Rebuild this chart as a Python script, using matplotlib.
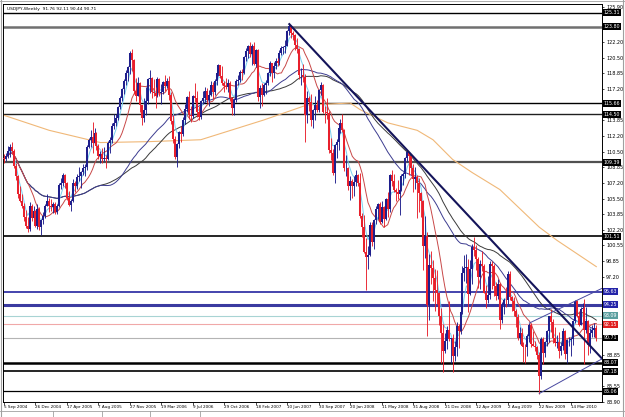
import numpy as np
import pandas as pd
import matplotlib
matplotlib.use('Agg')
import matplotlib.pyplot as plt
import matplotlib.transforms as mtransforms
from matplotlib.lines import Line2D

title_text = 'USDJPY,Weekly  91.76 92.11 90.44 90.71'

# weekly candles, first week = 5 Sep 2004
opens = [109.9, 109.7, 110.1, 110.6, 111.0, 110.6, 109.0, 107.9, 106.0, 105.3, 104.8, 103.6, 102.6, 102.3, 104.7, 103.5,
         104.2, 102.6, 104.4, 102.5, 103.3, 103.7, 104.8, 105.3, 104.8, 104.6, 105.0, 104.1, 104.7, 107.0, 107.2, 108.1,
         107.2, 105.6, 104.9, 105.3, 107.2, 106.9, 107.8, 107.9, 108.4, 108.8, 108.9, 111.0, 111.8, 112.1, 111.5, 112.5,
         111.1, 110.1, 110.3, 109.7, 109.9, 109.8, 111.4, 111.8, 113.3, 113.6, 114.1, 115.3, 116.2, 117.2, 118.1, 118.9,
         119.5, 121.0, 120.3, 117.0, 116.5, 117.8, 115.5, 114.1, 115.0, 115.9, 118.3, 118.4, 116.9, 116.8, 116.4, 118.3,
         116.8, 116.9, 117.9, 117.5, 118.1, 116.6, 113.8, 111.9, 110.0, 111.3, 112.6, 112.4, 113.9, 115.1, 116.3, 114.4,
         114.3, 116.4, 116.2, 114.8, 114.2, 115.9, 116.2, 117.0, 116.0, 116.6, 117.6, 116.9, 118.1, 118.9, 119.7, 118.6,
         117.8, 117.5, 117.4, 117.8, 116.2, 115.2, 116.0, 118.1, 118.2, 119.0, 118.9, 120.6, 121.2, 121.8, 120.9, 121.8,
         119.9, 121.3, 116.3, 117.3, 116.6, 117.6, 117.8, 118.9, 120.0, 118.9, 119.6, 120.2, 120.0, 121.0, 121.6, 121.7,
         121.8, 123.4, 123.9, 123.2, 122.9, 121.9, 121.5, 118.7, 118.7, 118.5, 114.4, 116.2, 115.8, 113.9, 115.0, 115.5,
         115.0, 117.1, 117.6, 114.8, 114.7, 114.6, 110.7, 110.4, 108.3, 111.2, 111.6, 113.1, 113.6, 112.8, 108.8, 108.8,
         106.9, 107.4, 106.9, 107.3, 108.1, 107.2, 103.7, 102.5, 99.9, 99.3, 99.5, 102.7, 100.9, 103.3, 104.4, 105.0,
         103.0, 104.6, 103.4, 105.5, 104.4, 108.1, 107.4, 106.4, 106.2, 106.0, 106.5, 107.9, 108.2, 109.9, 110.5, 110.1,
         108.8, 107.6, 107.8, 107.2, 106.1, 105.3, 100.5, 101.6, 94.2, 98.5, 98.2, 97.1, 95.8, 95.5, 93.1, 91.2,
         89.3, 90.4, 91.6, 90.6, 90.7, 88.8, 89.8, 92.0, 91.4, 93.5, 97.6, 98.2, 98.3, 95.4, 98.0, 100.4,
         100.1, 99.1, 97.2, 98.6, 98.4, 95.5, 94.8, 95.3, 98.6, 98.4, 96.2, 95.2, 96.4, 92.6, 94.2, 94.8,
         94.7, 97.5, 95.1, 94.6, 93.6, 92.9, 90.7, 91.2, 89.9, 89.8, 89.7, 90.9, 92.1, 90.1, 89.9, 89.7,
         88.9, 86.7, 90.6, 89.1, 90.3, 91.4, 93.0, 92.4, 90.7, 90.2, 90.3, 89.3, 89.9, 91.5, 89.0, 90.5,
         90.5, 90.6, 92.5, 94.6, 93.0, 92.1, 93.8, 93.9, 91.6, 92.5, 90.0, 91.2, 91.6, 91.76]
highs = [110.3, 110.4, 111.1, 111.3, 111.6, 110.8, 109.3, 108.0, 106.9, 106.0, 105.1, 104.3, 103.6, 105.2, 105.0, 104.8,
         104.3, 105.0, 104.6, 103.4, 104.1, 105.0, 106.0, 105.6, 105.5, 105.2, 105.2, 105.0, 107.2, 107.7, 108.3, 108.2,
         107.3, 106.3, 105.5, 107.6, 107.4, 108.2, 108.9, 108.5, 109.2, 109.2, 111.2, 112.0, 112.8, 113.7, 113.1, 112.6,
         111.3, 110.6, 110.9, 111.0, 110.2, 111.7, 112.1, 113.6, 114.5, 114.5, 115.4, 116.5, 117.3, 118.3, 119.2, 119.6,
         121.2, 121.4, 120.4, 118.4, 118.5, 117.9, 115.5, 116.2, 117.4, 118.4, 119.2, 118.5, 118.3, 117.4, 118.5, 118.4,
         117.7, 118.1, 118.7, 118.4, 118.6, 116.9, 114.4, 112.2, 111.5, 112.7, 113.3, 114.2, 115.6, 116.4, 117.0, 115.4,
         116.6, 117.8, 117.0, 115.4, 116.0, 117.0, 117.4, 117.3, 117.1, 118.1, 117.9, 118.3, 119.1, 119.9, 119.8, 119.6,
         118.0, 118.4, 118.3, 118.1, 116.3, 116.2, 118.3, 118.7, 119.2, 119.3, 120.7, 121.6, 121.9, 122.2, 122.0, 122.2,
         121.5, 121.4, 117.6, 117.8, 117.8, 118.2, 119.0, 120.2, 120.0, 120.1, 120.5, 120.5, 121.3, 121.8, 121.8, 122.4,
         123.5, 124.1, 124.0, 123.4, 123.1, 122.6, 121.6, 119.4, 119.9, 118.8, 117.0, 116.5, 116.7, 115.1, 116.4, 116.0,
         117.2, 117.9, 117.7, 115.4, 116.2, 114.9, 112.0, 110.8, 111.3, 111.9, 113.3, 114.0, 114.5, 112.9, 110.2, 108.9,
         107.9, 107.6, 107.9, 108.6, 108.2, 108.3, 104.0, 103.8, 101.3, 100.5, 103.1, 103.1, 103.4, 104.7, 105.1, 105.2,
         105.3, 104.8, 105.6, 106.2, 108.2, 108.6, 108.2, 106.7, 107.5, 106.8, 108.2, 108.4, 110.0, 110.7, 110.5, 110.2,
         109.2, 108.9, 108.0, 107.7, 106.2, 105.4, 103.7, 102.0, 99.6, 100.0, 99.0, 98.1, 97.9, 95.6, 93.9, 92.2,
         91.2, 92.0, 94.6, 90.7, 91.1, 90.4, 92.4, 92.2, 94.1, 98.4, 99.5, 99.6, 99.1, 99.0, 100.7, 101.4,
         100.6, 99.3, 99.0, 100.0, 98.6, 96.3, 97.3, 98.9, 98.9, 98.6, 96.7, 97.0, 96.6, 94.5, 95.0, 96.1,
         97.8, 97.8, 95.2, 95.1, 93.8, 93.3, 91.9, 91.8, 90.3, 90.1, 91.1, 92.3, 92.3, 91.4, 90.4, 89.9,
         89.2, 90.8, 90.8, 90.4, 91.6, 93.0, 93.8, 92.7, 91.9, 91.0, 91.3, 90.3, 91.8, 91.6, 90.6, 90.8,
         90.8, 92.6, 94.7, 94.8, 93.6, 94.0, 94.4, 94.9, 94.0, 92.6, 91.8, 92.1, 92.3, 92.11]
lows = [109.3, 109.5, 109.9, 110.0, 110.3, 108.8, 107.5, 105.6, 105.2, 104.5, 103.2, 102.4, 102.0, 102.1, 103.2, 103.4,
        102.5, 102.3, 102.2, 101.7, 102.8, 103.5, 104.7, 104.1, 104.2, 104.0, 103.9, 103.9, 104.6, 106.6, 106.9, 106.7,
        105.4, 104.7, 104.2, 105.2, 106.2, 106.6, 107.4, 106.7, 108.0, 107.9, 108.6, 110.9, 111.0, 110.4, 111.3, 110.7,
        109.8, 109.3, 109.3, 109.5, 108.8, 109.6, 110.4, 111.5, 112.9, 113.3, 113.9, 115.1, 115.9, 116.7, 117.6, 118.0,
        118.8, 119.1, 116.7, 115.9, 116.4, 114.8, 113.4, 113.7, 114.4, 115.6, 116.8, 116.2, 116.4, 115.2, 116.3, 116.4,
        115.6, 116.7, 117.0, 117.3, 116.0, 113.5, 111.5, 109.8, 108.9, 110.9, 111.6, 112.2, 113.5, 114.7, 114.0, 113.7,
        114.1, 115.8, 114.2, 113.9, 114.0, 115.6, 115.8, 115.7, 115.4, 116.5, 116.1, 116.6, 117.6, 118.6, 118.4, 117.6,
        116.9, 117.2, 116.9, 115.9, 114.4, 114.4, 115.8, 117.6, 117.9, 118.2, 118.8, 120.2, 120.5, 120.6, 119.8, 119.7,
        119.5, 115.9, 115.2, 115.4, 116.4, 116.7, 117.6, 118.6, 117.9, 118.4, 119.3, 119.6, 119.8, 120.8, 120.9, 121.0,
        121.8, 122.9, 122.6, 122.4, 121.3, 121.0, 118.3, 117.6, 117.9, 111.6, 113.6, 114.9, 113.3, 113.0, 113.9, 114.8,
        114.8, 116.6, 114.6, 113.6, 114.0, 110.4, 109.6, 108.0, 107.2, 109.9, 110.7, 112.5, 112.6, 108.5, 107.9, 106.5,
        105.4, 105.6, 105.8, 106.9, 106.9, 103.5, 101.5, 99.8, 95.8, 98.0, 99.4, 100.5, 100.2, 102.8, 103.4, 102.8,
        102.9, 102.5, 103.3, 103.6, 104.1, 106.9, 106.2, 105.3, 105.5, 103.8, 106.3, 107.0, 107.7, 109.4, 108.1, 108.0,
        106.2, 106.6, 103.5, 104.1, 103.6, 97.9, 99.2, 90.9, 92.6, 96.5, 94.6, 93.6, 94.3, 92.1, 88.1, 87.1,
        89.1, 89.5, 90.4, 88.0, 87.1, 88.3, 88.8, 89.6, 91.1, 93.3, 96.8, 96.6, 93.5, 95.3, 96.5, 99.4,
        97.9, 96.0, 95.9, 97.8, 95.5, 93.9, 94.4, 94.9, 95.9, 95.2, 94.8, 94.9, 91.7, 92.3, 93.3, 94.0,
        94.3, 94.8, 93.6, 93.0, 91.9, 90.5, 90.1, 89.9, 88.2, 88.0, 88.8, 90.3, 89.8, 89.9, 89.3, 88.5,
        84.8, 86.3, 87.9, 88.7, 89.9, 90.3, 91.3, 90.2, 89.9, 89.6, 88.6, 88.9, 89.4, 88.5, 88.1, 89.9,
        88.8, 90.0, 92.3, 92.9, 92.0, 92.1, 92.9, 87.9, 91.2, 88.9, 89.1, 90.8, 90.8, 90.44]
closes = [109.7, 110.1, 110.6, 111.0, 110.6, 109.0, 107.9, 106.0, 105.3, 104.8, 103.6, 102.6, 102.3, 104.7, 103.5, 104.2,
          102.6, 104.4, 102.5, 103.3, 103.7, 104.8, 105.3, 104.8, 104.6, 105.0, 104.1, 104.7, 107.0, 107.2, 108.1, 107.2,
          105.6, 104.9, 105.3, 107.2, 106.9, 107.8, 107.9, 108.4, 108.8, 108.9, 111.0, 111.8, 112.1, 111.5, 112.5, 111.1,
          110.1, 110.3, 109.7, 109.9, 109.8, 111.4, 111.8, 113.3, 113.6, 114.1, 115.3, 116.2, 117.2, 118.1, 118.9, 119.5,
          121.0, 120.3, 117.0, 116.5, 117.8, 115.5, 114.1, 115.0, 115.9, 118.3, 118.4, 116.9, 116.8, 116.4, 118.3, 116.8,
          116.9, 117.9, 117.5, 118.1, 116.6, 113.8, 111.9, 110.0, 111.3, 112.6, 112.4, 113.9, 115.1, 116.3, 114.4, 114.3,
          116.4, 116.2, 114.8, 114.2, 115.9, 116.2, 117.0, 116.0, 116.6, 117.6, 116.9, 118.1, 118.9, 119.7, 118.6, 117.8,
          117.5, 117.4, 117.8, 116.2, 115.2, 116.0, 118.1, 118.2, 119.0, 118.9, 120.6, 121.2, 121.8, 120.9, 121.8, 119.9,
          121.3, 116.3, 117.3, 116.6, 117.6, 117.8, 118.9, 120.0, 118.9, 119.6, 120.2, 120.0, 121.0, 121.6, 121.7, 121.8,
          123.4, 123.9, 123.2, 122.9, 121.9, 121.5, 118.7, 118.7, 118.5, 114.4, 116.2, 115.8, 113.9, 115.0, 115.5, 115.0,
          117.1, 117.6, 114.8, 114.7, 114.6, 110.7, 110.4, 108.3, 111.2, 111.6, 113.1, 113.6, 112.8, 108.8, 108.8, 106.9,
          107.4, 106.9, 107.3, 108.1, 107.2, 103.7, 102.5, 99.9, 99.3, 99.5, 102.7, 100.9, 103.3, 104.4, 105.0, 103.0,
          104.6, 103.4, 105.5, 104.4, 108.1, 107.4, 106.4, 106.2, 106.0, 106.5, 107.9, 108.2, 109.9, 110.5, 110.1, 108.8,
          107.6, 107.8, 107.2, 106.1, 105.3, 100.5, 101.6, 94.2, 98.5, 98.2, 97.1, 95.8, 95.5, 93.1, 91.2, 89.3,
          90.4, 91.6, 90.6, 90.7, 88.8, 89.8, 92.0, 91.4, 93.5, 97.6, 98.2, 98.3, 95.4, 98.0, 100.4, 100.1,
          99.1, 97.2, 98.6, 98.4, 95.5, 94.8, 95.3, 98.6, 98.4, 96.2, 95.2, 96.4, 92.6, 94.2, 94.8, 94.7,
          97.5, 95.1, 94.6, 93.6, 92.9, 90.7, 91.2, 89.9, 89.8, 89.7, 90.9, 92.1, 90.1, 89.9, 89.7, 88.9,
          86.7, 90.6, 89.1, 90.3, 91.4, 93.0, 92.4, 90.7, 90.2, 90.3, 89.3, 89.9, 91.5, 89.0, 90.5, 90.5,
          90.6, 92.5, 94.6, 93.0, 92.1, 93.8, 93.9, 91.6, 92.5, 90.0, 91.2, 91.6, 91.76, 90.71]

date_labels = ['5 Sep 2004', '26 Dec 2004', '17 Apr 2005', '7 Aug 2005', '27 Nov 2005', '19 Mar 2006',
               '9 Jul 2006', '29 Oct 2006', '18 Feb 2007', '10 Jun 2007', '30 Sep 2007', '20 Jan 2008',
               '11 May 2008', '31 Aug 2008', '21 Dec 2008', '12 Apr 2009', '2 Aug 2009', '22 Nov 2009', '14 Mar 2010']
date_weeks = [0, 16, 32, 48, 64, 80, 96, 112, 128, 144, 160, 176, 192, 208, 224, 240, 256, 272, 288]

price_ticks = [125.90, 122.20, 120.50, 118.85, 117.20, 113.85, 112.20, 110.50, 108.85, 107.20, 105.50,
               103.85, 102.20, 100.55, 98.85, 97.20, 88.85, 85.55, 83.90]

# horizontal levels: price, label, line colour, line width, label box colour
levels = [
    (125.31, '125.31', '#000000', 1.0, '#000000'),
    (123.80, '123.80', '#707070', 1.8, '#000000'),
    (115.66, '115.66', '#000000', 1.0, '#000000'),
    (114.50, '114.50', '#202020', 1.0, '#000000'),
    (109.39, '109.39', '#505050', 1.6, '#000000'),
    (101.51, '101.51', '#000000', 1.2, '#000000'),
    (95.63, '95.63', '#2424a0', 1.2, '#2424a8'),
    (94.25, '94.25', '#3a3aa0', 2.2, '#2424a8'),
    (93.09, '93.09', '#a8d4d4', 0.8, '#5a9e9e'),
    (92.15, '92.15', '#f0a8a8', 0.8, '#e02020'),
    (90.71, '90.71', '#b4b4b4', 0.8, '#000000'),
    (88.07, '88.07', '#000000', 1.8, '#000000'),
    (87.18, '87.18', '#000000', 1.2, '#000000'),
    (85.06, '85.06', '#000000', 0.9, '#000000'),
]

# slow moving average
slow_ma_weeks = [0, 23, 49, 74, 100, 132, 154, 176, 181, 195, 210, 218, 228, 238, 252, 272, 281, 301]
slow_ma_vals = [114.4, 112.8, 111.5, 111.6, 111.8, 113.9, 115.5, 115.7, 115.0, 113.6, 112.8, 111.8,
                109.7, 108.3, 106.5, 102.5, 101.1, 98.3]

# trend lines (week, price) pairs
trend_main = ([145, 304], [124.1, 88.5])
channel_low = ([272, 304], [84.8, 88.5])
channel_high = ([267, 304], [92.3, 96.0])

o = np.array(opens)
h = np.array(highs)
l = np.array(lows)
c = np.array(closes)
wk = np.arange(len(c))
cs = pd.Series(c)

fig = plt.figure(figsize=(6.25, 4.17), dpi=100)
fig.patch.set_facecolor('white')
ax = fig.add_axes([3 / 625, 1 - 402 / 417, 599 / 625, 398 / 417])
ax.set_facecolor('white')

for p, lab, col, lw, box in levels:
    ax.axhline(p, color=col, lw=lw, zorder=1)

# moving averages
ax.plot(slow_ma_weeks, slow_ma_vals, color='#f0b878', lw=0.8, zorder=2)
ax.plot(wk, cs.rolling(62, min_periods=1).mean(), color='#3a3a3a', lw=0.7, zorder=2)
ax.plot(wk, cs.rolling(50, min_periods=1).mean(), color='#3c3c90', lw=0.7, zorder=2)
ax.plot(wk, cs.rolling(13, min_periods=1).mean(), color='#c84848', lw=0.7, zorder=2)
ax.plot(wk, cs.ewm(span=5).mean(), color='#78d0f0', lw=0.7, zorder=2)

# candles
up = c >= o
for mask, col in [(up, '#1e1e8c'), (~up, '#e8202c')]:
    ax.vlines(wk[mask], l[mask], h[mask], color=col, lw=0.65, zorder=3)
    ax.vlines(wk[mask], o[mask], c[mask], color=col, lw=1.45, zorder=3)

ax.plot(*trend_main, color='#14145a', lw=1.5, zorder=4)
ax.plot(*channel_low, color='#4848a0', lw=0.7, zorder=4)
ax.plot(*channel_high, color='#4848a0', lw=0.7, zorder=4)

ax.set_xlim(-0.5, 303.9)
ax.set_ylim(83.90, 126.24)

ax.yaxis.tick_right()
ax.set_yticks(price_ticks)
ax.set_yticklabels(['%.2f' % v for v in price_ticks])
ax.tick_params(axis='y', labelsize=3.5, length=1.5, width=0.5, pad=1.5)
ax.set_xticks(date_weeks)
ax.set_xticklabels(date_labels)
ax.tick_params(axis='x', labelsize=3.0, length=2, width=0.5, pad=0.5)
for t in ax.get_xticklabels():
    t.set_ha('left')

for sp in ax.spines.values():
    sp.set_linewidth(0.7)

trans = mtransforms.blended_transform_factory(ax.transAxes, ax.transData)
for p, lab, col, lw, box in levels:
    ax.text(1.003, p, lab, transform=trans, fontsize=3.4, color='white', va='center', ha='left',
            bbox=dict(boxstyle='square,pad=0.2', fc=box, ec='none'), clip_on=False, zorder=6)

ax.text(0.007, 0.992, title_text, transform=ax.transAxes, fontsize=3.2, va='top', ha='left')

# window frame and the tab strip under the date scale
fig.add_artist(Line2D([0, 1], [6 / 417, 6 / 417], color='#a0a0a0', lw=0.6))
for tx in [53, 102, 150, 200]:
    fig.add_artist(Line2D([tx / 625, tx / 625], [0, 6 / 417], color='#a0a0a0', lw=0.6))
fig.add_artist(Line2D([623 / 625, 623 / 625], [0, 1], color='#a0a0a0', lw=0.8))
fig.add_artist(Line2D([1 / 625, 1 / 625], [0, 1], color='#a0a0a0', lw=0.8))
fig.add_artist(Line2D([0, 1], [416 / 417, 416 / 417], color='#a0a0a0', lw=0.6))

fig.savefig('out.png', dpi=100)
